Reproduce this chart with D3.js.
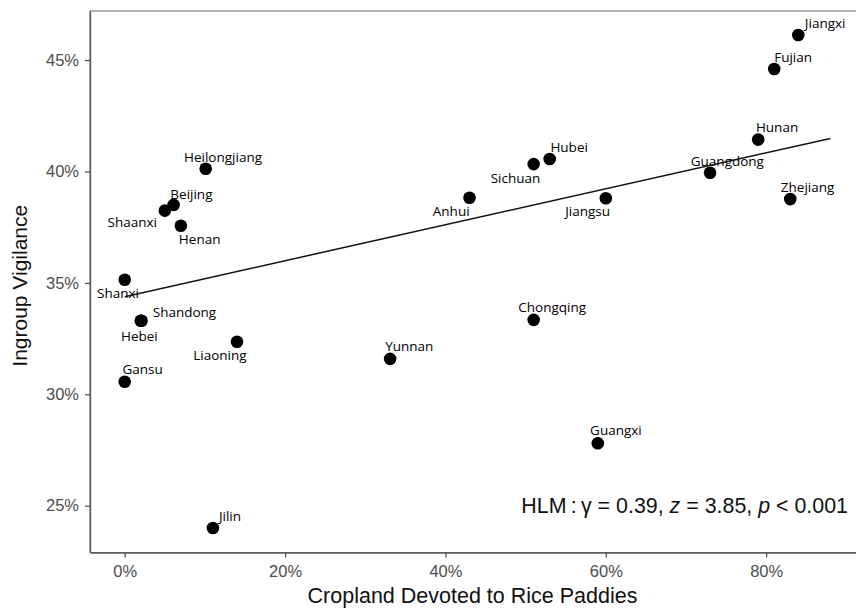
<!DOCTYPE html>
<html>
<head>
<meta charset="utf-8">
<script src="https://cdn.jsdelivr.net/npm/d3@7"></script>
<style>
  body { margin: 0; background: #fff; }
  .tick text { font-family: "Liberation Sans", Arial, sans-serif; fill: #4d4d4d; }
  .label { font-family: "Open Sans", sans-serif; font-size: 13.5px; fill: #000; }
  .title { font-family: "Liberation Sans", Arial, sans-serif; fill: #111; }
</style>
</head>
<body>
<div id="chart"></div>
<script>
const provinces = ["Heilongjiang", "Beijing", "Shaanxi", "Henan", "Shanxi", "Shandong", "Hebei",
  "Liaoning", "Gansu", "Jilin", "Yunnan", "Anhui", "Sichuan", "Hubei", "Jiangsu", "Chongqing",
  "Guangxi", "Guangdong", "Hunan", "Zhejiang", "Fujian", "Jiangxi"];
// percent of cropland devoted to rice paddies
const riceShare = [10.1, 6.1, 5.0, 7.0, 0.0, 2.0, 2.1, 14.0, 0.0, 11.0, 33.1, 43.0,
  51.0, 53.0, 60.0, 51.0, 59.0, 73.0, 79.0, 83.0, 81.0, 84.0];
// percent ingroup vigilance
const vigilance = [40.12, 38.5, 38.24, 37.56, 35.14, 33.3, 33.3, 32.36, 30.56, 24.0, 31.59, 38.82,
  40.33, 40.56, 38.8, 33.34, 27.8, 39.94, 41.43, 38.76, 44.6, 46.12];

const xTicks = [0, 20, 40, 60, 80];
const yTicks = [25, 30, 35, 40, 45];

// fitted HLM line: intercept, slope, x range
const fitIntercept = 34.38;
const fitSlope = 0.0807;
const fitRange = [0, 88];

// label placement relative to each dot (px), like a repel layout
const labelOffset = {
  Heilongjiang: [-21.7, -7], Beijing: [-3.3, -6], Shaanxi: [-57.3, 16.7], Henan: [-2, 18.3],
  Shanxi: [-27.7, 18.3], Shandong: [12, -4], Hebei: [-20.6, 20], Liaoning: [-43.7, 18],
  Gansu: [-2.3, -8], Jilin: [6, -7.4], Yunnan: [-5, -8], Anhui: [-36.7, 18],
  Sichuan: [-43, 19], Hubei: [0.7, -7.3], Jiangsu: [-40.7, 18], Chongqing: [-15.4, -7.6],
  Guangxi: [-7.7, -8.7], Guangdong: [-19.3, -6.3], Hunan: [-2.3, -7.4], Zhejiang: [-9.4, -7],
  Fujian: [0, -6.7], Jiangxi: [6.6, -6.7]
};

const width = 856;
const height = 608;
const panel = { left: 90, right: 856, top: 11, bottom: 552.5 };

const points = provinces.map((name, i) => ({ name, x: riceShare[i], y: vigilance[i] }));

const x = d3.scaleLinear().domain([-4.33, 91.2]).range([panel.left, panel.right]);
const y = d3.scaleLinear().domain([22.9, 47.2]).range([panel.bottom, panel.top]);

const svg = d3.select("#chart").append("svg")
  .attr("width", width)
  .attr("height", height);

// panel border (right side falls outside the picture)
svg.append("rect")
  .attr("x", panel.left)
  .attr("y", panel.top)
  .attr("width", panel.right - panel.left + 10)
  .attr("height", panel.bottom - panel.top)
  .attr("fill", "none")
  .attr("stroke", "#5a5a5a")
  .attr("stroke-width", 0.9);

const xAxis = svg.append("g")
  .attr("transform", `translate(0,${panel.bottom})`)
  .call(d3.axisBottom(x).tickValues(xTicks).tickFormat((d) => d + "%").tickSize(5).tickPadding(8).tickSizeOuter(0));

const yAxis = svg.append("g")
  .attr("transform", `translate(${panel.left},0)`)
  .call(d3.axisLeft(y).tickValues(yTicks).tickFormat((d) => d + "%").tickSize(5).tickPadding(6).tickSizeOuter(0));

[xAxis, yAxis].forEach((ax) => {
  ax.select(".domain").attr("stroke", "#5a5a5a").attr("stroke-width", 1.4);
  ax.selectAll(".tick line").attr("stroke", "#4d4d4d").attr("stroke-width", 1.2);
  ax.selectAll(".tick text").style("font-size", "16.5px");
});

// points
svg.append("g")
  .selectAll("circle")
  .data(points)
  .join("circle")
  .attr("cx", (d) => x(d.x))
  .attr("cy", (d) => y(d.y))
  .attr("r", 6.3)
  .attr("fill", "#000");

// province labels
svg.append("g")
  .selectAll("text")
  .data(points)
  .join("text")
  .attr("class", "label")
  .attr("x", (d) => x(d.x) + labelOffset[d.name][0])
  .attr("y", (d) => y(d.y) + labelOffset[d.name][1])
  .text((d) => d.name);

// regression line
const line = d3.line()
  .x((d) => x(d))
  .y((d) => y(fitIntercept + fitSlope * d));

svg.append("path")
  .datum(fitRange)
  .attr("d", line)
  .attr("fill", "none")
  .attr("stroke", "#111")
  .attr("stroke-width", 1.5);

// annotation
const note = svg.append("text")
  .attr("class", "title")
  .attr("x", 848)
  .attr("y", 512.7)
  .attr("text-anchor", "end")
  .style("font-size", "21.4px");
note.append("tspan").text("HLM\u2009:\u2009\u03b3 = 0.39, ");
note.append("tspan").attr("font-style", "italic").text("z");
note.append("tspan").text(" = 3.85, ");
note.append("tspan").attr("font-style", "italic").text("p");
note.append("tspan").text(" < 0.001");

// axis titles
svg.append("text")
  .attr("class", "title")
  .attr("x", (panel.left + 855) / 2)
  .attr("y", 603)
  .attr("text-anchor", "middle")
  .style("font-size", "21.5px")
  .text("Cropland Devoted to Rice Paddies");

svg.append("text")
  .attr("class", "title")
  .attr("transform", `translate(27,${(panel.top + panel.bottom) / 2 + 4}) rotate(-90)`)
  .attr("text-anchor", "middle")
  .style("font-size", "21px")
  .text("Ingroup Vigilance");
</script>
</body>
</html>
